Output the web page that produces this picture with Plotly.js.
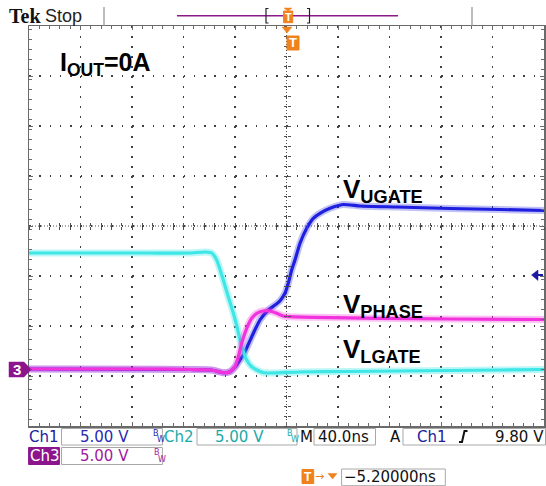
<!DOCTYPE html>
<html>
<head>
<meta charset="utf-8">
<script src="https://cdn.plot.ly/plotly-3.0.1.min.js"></script>
<style>html,body{margin:0;padding:0;background:#fff;}#chart{width:546px;height:486px;}</style>
</head>
<body>
<div id="chart"></div>
<script>
// ---- Data (time in ns, 40 ns/div; volts, 5 V/div, referenced to the Ch3 ground marker) ----
const ugateT = [-200,-74.9,-58.1,-49.1,-43.9,-39.2,-36.1,-32.2,-27,-20.6,-14.1,-8.9,-5.0,-1.2,1.4,4.0,6.6,10.5,15.7,20.8,26.0,33.8,43.9,57.1,85.8,127,165.8,200];
const ugateV = [0,-0.05,-0.1,-0.37,-0.27,0.3,0.9,1.73,3.23,4.9,5.9,6.4,6.83,7.57,8.57,9.9,10.9,12.57,14.07,15.07,15.57,16.07,16.45,16.3,16.2,16.05,15.95,15.85];

const lgateT = [-200,-145,-106,-75,-63,-58.1,-54.2,-49.1,-45.4,-41.3,-38.4,-36.1,-33.4,-30.9,-27.6,-23.1,-18.3,-12.8,10.5,49.3,88.2,127,165.8,200];
const lgateV = [11.6,11.6,11.6,11.6,11.7,11.6,10.9,8.9,7.3,5.6,4.2,2.9,1.7,0.9,0.3,-0.1,-0.35,-0.4,-0.3,-0.25,-0.2,-0.15,-0.1,-0.05];

const phaseT = [-200,-106,-74.9,-58.1,-49.1,-43.9,-40,-37.4,-34.8,-30.9,-27,-23.1,-18,-12.8,-7.6,-2.5,2.7,20.8,72.6,127,200];
const phaseV = [0,0,-0.05,-0.1,-0.37,-0.27,0.23,1.23,2.57,4.07,5.07,5.57,5.8,5.8,5.57,5.3,5.23,5.17,5.07,5.0,4.95];

const traceNames = ["V<sub>UGATE</sub>","V<sub>PHASE</sub>","V<sub>LGATE</sub>"];
const statusRow1 = {ch1:"Ch1", ch1Scale:"5.00 V", ch2:"Ch2", ch2Scale:"5.00 V", m:"M", timebase:"40.0ns", a:"A", trigSrc:"Ch1", trigLevel:"9.80 V"};
const statusRow2 = {ch3:"Ch3", ch3Scale:"5.00 V"};
const trigPos = "\u22125.20000ns";
const ioutLabel = "I<sub>OUT</sub>=0A";

// ---- pixel -> paper helpers for decorations ----
const X = p => (p - 29) / 515;
const Y = p => (426 - p) / 400;

const BLUE = "#1f1fe0", CYAN = "#3fe6e6", MAG = "#f232dc";
function line(t, v, color, w, op) {
  return {type:"scatter", mode:"lines", x:t, y:v, line:{color:color, width:w, shape:"spline", smoothing:0.5},
          opacity:op, hoverinfo:"skip", showlegend:false};
}
const traces = [
  line(ugateT, ugateV, BLUE, 7, 0.28), line(ugateT, ugateV, BLUE, 3.2, 1),
  line(lgateT, lgateV, CYAN, 7, 0.35), line(lgateT, lgateV, CYAN, 3.2, 1),
  line(phaseT, phaseV, MAG, 7, 0.3), line(phaseT, phaseV, MAG, 3.2, 1),
  {type:"scatter", x:[null], y:[null], xaxis:"x2", yaxis:"y2", showlegend:false, hoverinfo:"skip"},
  {type:"scatter", x:[null], y:[null], xaxis:"x3", yaxis:"y3", showlegend:false, hoverinfo:"skip"}
];

const XR = [-200, 200], YR = [-5.7, 34.3];
const GRID = "#404040";
const baseX = {range:XR, showticklabels:false, zeroline:false, fixedrange:true};
const baseY = {range:YR, showticklabels:false, zeroline:false, fixedrange:true};

const FONT = "DejaVu Sans, Liberation Sans, sans-serif";
function txt(text, x, y, color, size, extra) {
  return Object.assign({text:text, x:X(x), y:Y(y), xref:"paper", yref:"paper", xanchor:"left", yanchor:"middle",
    showarrow:false, font:{family:FONT, size:size, color:color}}, extra || {});
}
function rect(x0, y0, x1, y1, fill, lc, lw) {
  return {type:"rect", xref:"paper", yref:"paper", x0:X(x0), x1:X(x1), y0:Y(y0), y1:Y(y1),
    fillcolor:fill, line:{color:lc || fill, width:lw === undefined ? 1 : lw}, layer:"above"};
}
function path(pts, fill, lc, lw) {
  let d = pts.map((p, i) => (i ? "L" : "M") + X(p[0]).toFixed(5) + "," + Y(p[1]).toFixed(5)).join(" ");
  if (fill) d += " Z";
  return {type:"path", xref:"paper", yref:"paper", path:d, fillcolor:fill || "rgba(0,0,0,0)",
    line:{color:lc, width:lw}, layer:"above"};
}

const ORANGE = "#f0821e", BOXLINE = "#a8a8a8", PURPLE = "#8c148c";
const shapes = [
  // centre cross lines
  {type:"line", xref:"x", yref:"y", x0:XR[0], x1:XR[1], y0:14.3, y1:14.3, line:{color:"#505050", width:1, dash:"1px,2px"}, layer:"below"},
  {type:"line", xref:"x", yref:"y", x0:0, x1:0, y0:YR[0], y1:YR[1], line:{color:"#505050", width:1, dash:"1px,2px"}, layer:"below"},
  // top record bar
  path([[104,7],[104,26]], null, "#909090", 1.2),
  path([[472,7],[472,26]], null, "#909090", 1.2),
  path([[177,15.7],[398,15.7]], null, "#8a1a8a", 1.5),
  path([[268.5,8.5],[266,8.5],[266,23],[268.5,23]], null, "#222", 1.2),
  path([[307,8.5],[309.5,8.5],[309.5,23],[307,23]], null, "#222", 1.2),
  path([[284,8],[292,8],[288,11]], ORANGE, ORANGE, 0.5),
  rect(283.6, 11, 292.7, 22.7, ORANGE),
  // trigger position marker below top border
  path([[282,27],[292,27],[287,33]], ORANGE, ORANGE, 0.5),
  rect(287, 36, 299, 50, ORANGE),
  // Ch3 ground marker
  path([[9,362],[24,362],[31,369.5],[24,377],[9,377]], PURPLE, PURPLE, 0.5),
  // trigger level arrow (right)
  path([[531.5,275],[538,270],[538,280.5]], "#1a1aa0", "#1a1aa0", 0.5),
  path([[537,275],[543,275]], null, "#1a1aa0", 2),
  // status boxes row 1
  rect(61.5, 428.5, 162.4, 445, "#ffffff", BOXLINE, 1),
  rect(197, 428.5, 297, 445, "#ffffff", BOXLINE, 1),
  rect(314, 428.5, 375.5, 445, "#ffffff", BOXLINE, 1),
  rect(403, 428.5, 545.5, 445, "#ffffff", BOXLINE, 1),
  // row 2
  rect(28.6, 447.5, 59.4, 464.5, PURPLE),
  rect(61.5, 447.5, 162.4, 464.5, "#ffffff", BOXLINE, 1),
  // row 3
  rect(302, 469.5, 313.7, 483.5, ORANGE),
  path([[328,473.5],[337,473.5],[332.5,479]], ORANGE, ORANGE, 0.5),
  rect(341.6, 469, 445.3, 485.7, "#ffffff", BOXLINE, 1),
  // rising edge symbol
  path([[459,442],[462,442],[464.5,431],[467.5,431]], null, "#111", 2)
];

const DBLUE = "#20209e", VBLUE = "#2a2ab4", TEAL = "#1aaaaa", VPUR = "#a01aa0";
const annotations = [
  txt("Tek", 7, 16, "#111", 20, {font:{family:"Liberation Serif, serif", size:20, color:"#111", weight:700}}),
  txt("Stop", 43, 16, "#222", 18, {font:{family:"Liberation Sans, sans-serif", size:18, color:"#222"}}),
  txt("T", 288.2, 17, "#fff", 11, {xanchor:"center", font:{family:"Liberation Sans, sans-serif", size:11, color:"#fff", weight:700}}),
  txt("T", 293, 43, "#fff", 13, {xanchor:"center", font:{family:"Liberation Sans, sans-serif", size:13, color:"#fff", weight:700}}),
  txt("3", 17, 369.5, "#fff", 15, {xanchor:"center", font:{family:"Liberation Sans, sans-serif", size:15, color:"#fff", weight:700}}),
  // signal labels
  txt(ioutLabel, 58, 64, "#000", 25, {font:{family:"Liberation Sans, Arial, sans-serif", size:25, color:"#000", weight:700}}),
  txt(traceNames[0], 341, 190, "#000", 26, {font:{family:"Liberation Sans, Arial, sans-serif", size:26, color:"#000", weight:700}}),
  txt(traceNames[1], 341, 305, "#000", 26, {font:{family:"Liberation Sans, Arial, sans-serif", size:26, color:"#000", weight:700}}),
  txt(traceNames[2], 341, 350, "#000", 26, {font:{family:"Liberation Sans, Arial, sans-serif", size:26, color:"#000", weight:700}}),
  // status row 1
  txt(statusRow1.ch1, 27, 437, DBLUE, 15),
  txt(statusRow1.ch1Scale, 78, 437, VBLUE, 15),
  txt("B", 151, 433, VBLUE, 8), txt("W", 155, 440, VBLUE, 8),
  txt(statusRow1.ch2, 162, 437, TEAL, 15),
  txt(statusRow1.ch2Scale, 213, 437, TEAL, 15),
  txt("B", 285, 433, TEAL, 8), txt("W", 289, 440, TEAL, 8),
  txt(statusRow1.m, 298, 437, "#111", 15),
  txt(statusRow1.timebase, 316, 437, "#111", 15),
  txt(statusRow1.a, 388, 437, "#111", 15),
  txt(statusRow1.trigSrc, 415, 437, DBLUE, 15),
  txt(statusRow1.trigLevel, 546, 437, "#111", 15, {xanchor:"right"}),
  // status row 2
  txt(statusRow2.ch3, 28, 456, "#fff", 15),
  txt(statusRow2.ch3Scale, 78, 456, VPUR, 15),
  txt("B", 152, 452, VPUR, 8), txt("W", 156, 459, VPUR, 8),
  // status row 3
  txt("T", 307.8, 476.5, "#fff", 12, {xanchor:"center", font:{family:"Liberation Sans, sans-serif", size:12, color:"#fff", weight:700}}),
  txt("\u2192", 313, 476, ORANGE, 11),
  txt(trigPos, 342, 477, "#111", 15)
];

const layout = {
  width:546, height:486,
  margin:{l:29, r:2, t:26, b:60, pad:0},
  paper_bgcolor:"#ffffff", plot_bgcolor:"#ffffff",
  showlegend:false,
  xaxis:Object.assign({}, baseX, {
    showgrid:true, dtick:40, tick0:-200, gridcolor:GRID, gridwidth:1.5, griddash:"1.5px,8.5px",
    showline:true, linecolor:"#6a6a6a", linewidth:1.5, mirror:"ticks",
    ticks:"inside", ticklen:4, tickcolor:"#6a6a6a", tickwidth:1,
    minor:{dtick:8, ticks:"inside", ticklen:3, tickcolor:"#6a6a6a", showgrid:false}
  }),
  yaxis:Object.assign({}, baseY, {
    showgrid:true, dtick:5, tick0:-5.7, gridcolor:GRID, gridwidth:1.5, griddash:"1.5px,8.8px",
    showline:true, linecolor:"#6a6a6a", linewidth:1.5, mirror:"ticks",
    ticks:"inside", ticklen:4, tickcolor:"#6a6a6a", tickwidth:1,
    minor:{dtick:1, ticks:"inside", ticklen:3, tickcolor:"#6a6a6a", showgrid:false}
  }),
  xaxis2:Object.assign({}, baseX, {overlaying:"x", anchor:"free", position:0.5, showgrid:false, showline:false,
    ticks:"inside", ticklen:3, dtick:8, tick0:-200, tickcolor:"#505050"}),
  xaxis3:Object.assign({}, baseX, {overlaying:"x", anchor:"free", position:0.5, showgrid:false, showline:false,
    ticks:"outside", ticklen:3, dtick:8, tick0:-200, tickcolor:"#505050"}),
  yaxis2:Object.assign({}, baseY, {overlaying:"y", anchor:"free", position:0.5, showgrid:false, showline:false,
    ticks:"inside", ticklen:3, dtick:1, tick0:-5.7, tickcolor:"#505050"}),
  yaxis3:Object.assign({}, baseY, {overlaying:"y", anchor:"free", position:0.5, showgrid:false, showline:false,
    ticks:"outside", ticklen:3, dtick:1, tick0:-5.7, tickcolor:"#505050"}),
  shapes:shapes,
  annotations:annotations
};

Plotly.newPlot("chart", traces, layout, {staticPlot:true, displayModeBar:false});
</script>
</body>
</html>
